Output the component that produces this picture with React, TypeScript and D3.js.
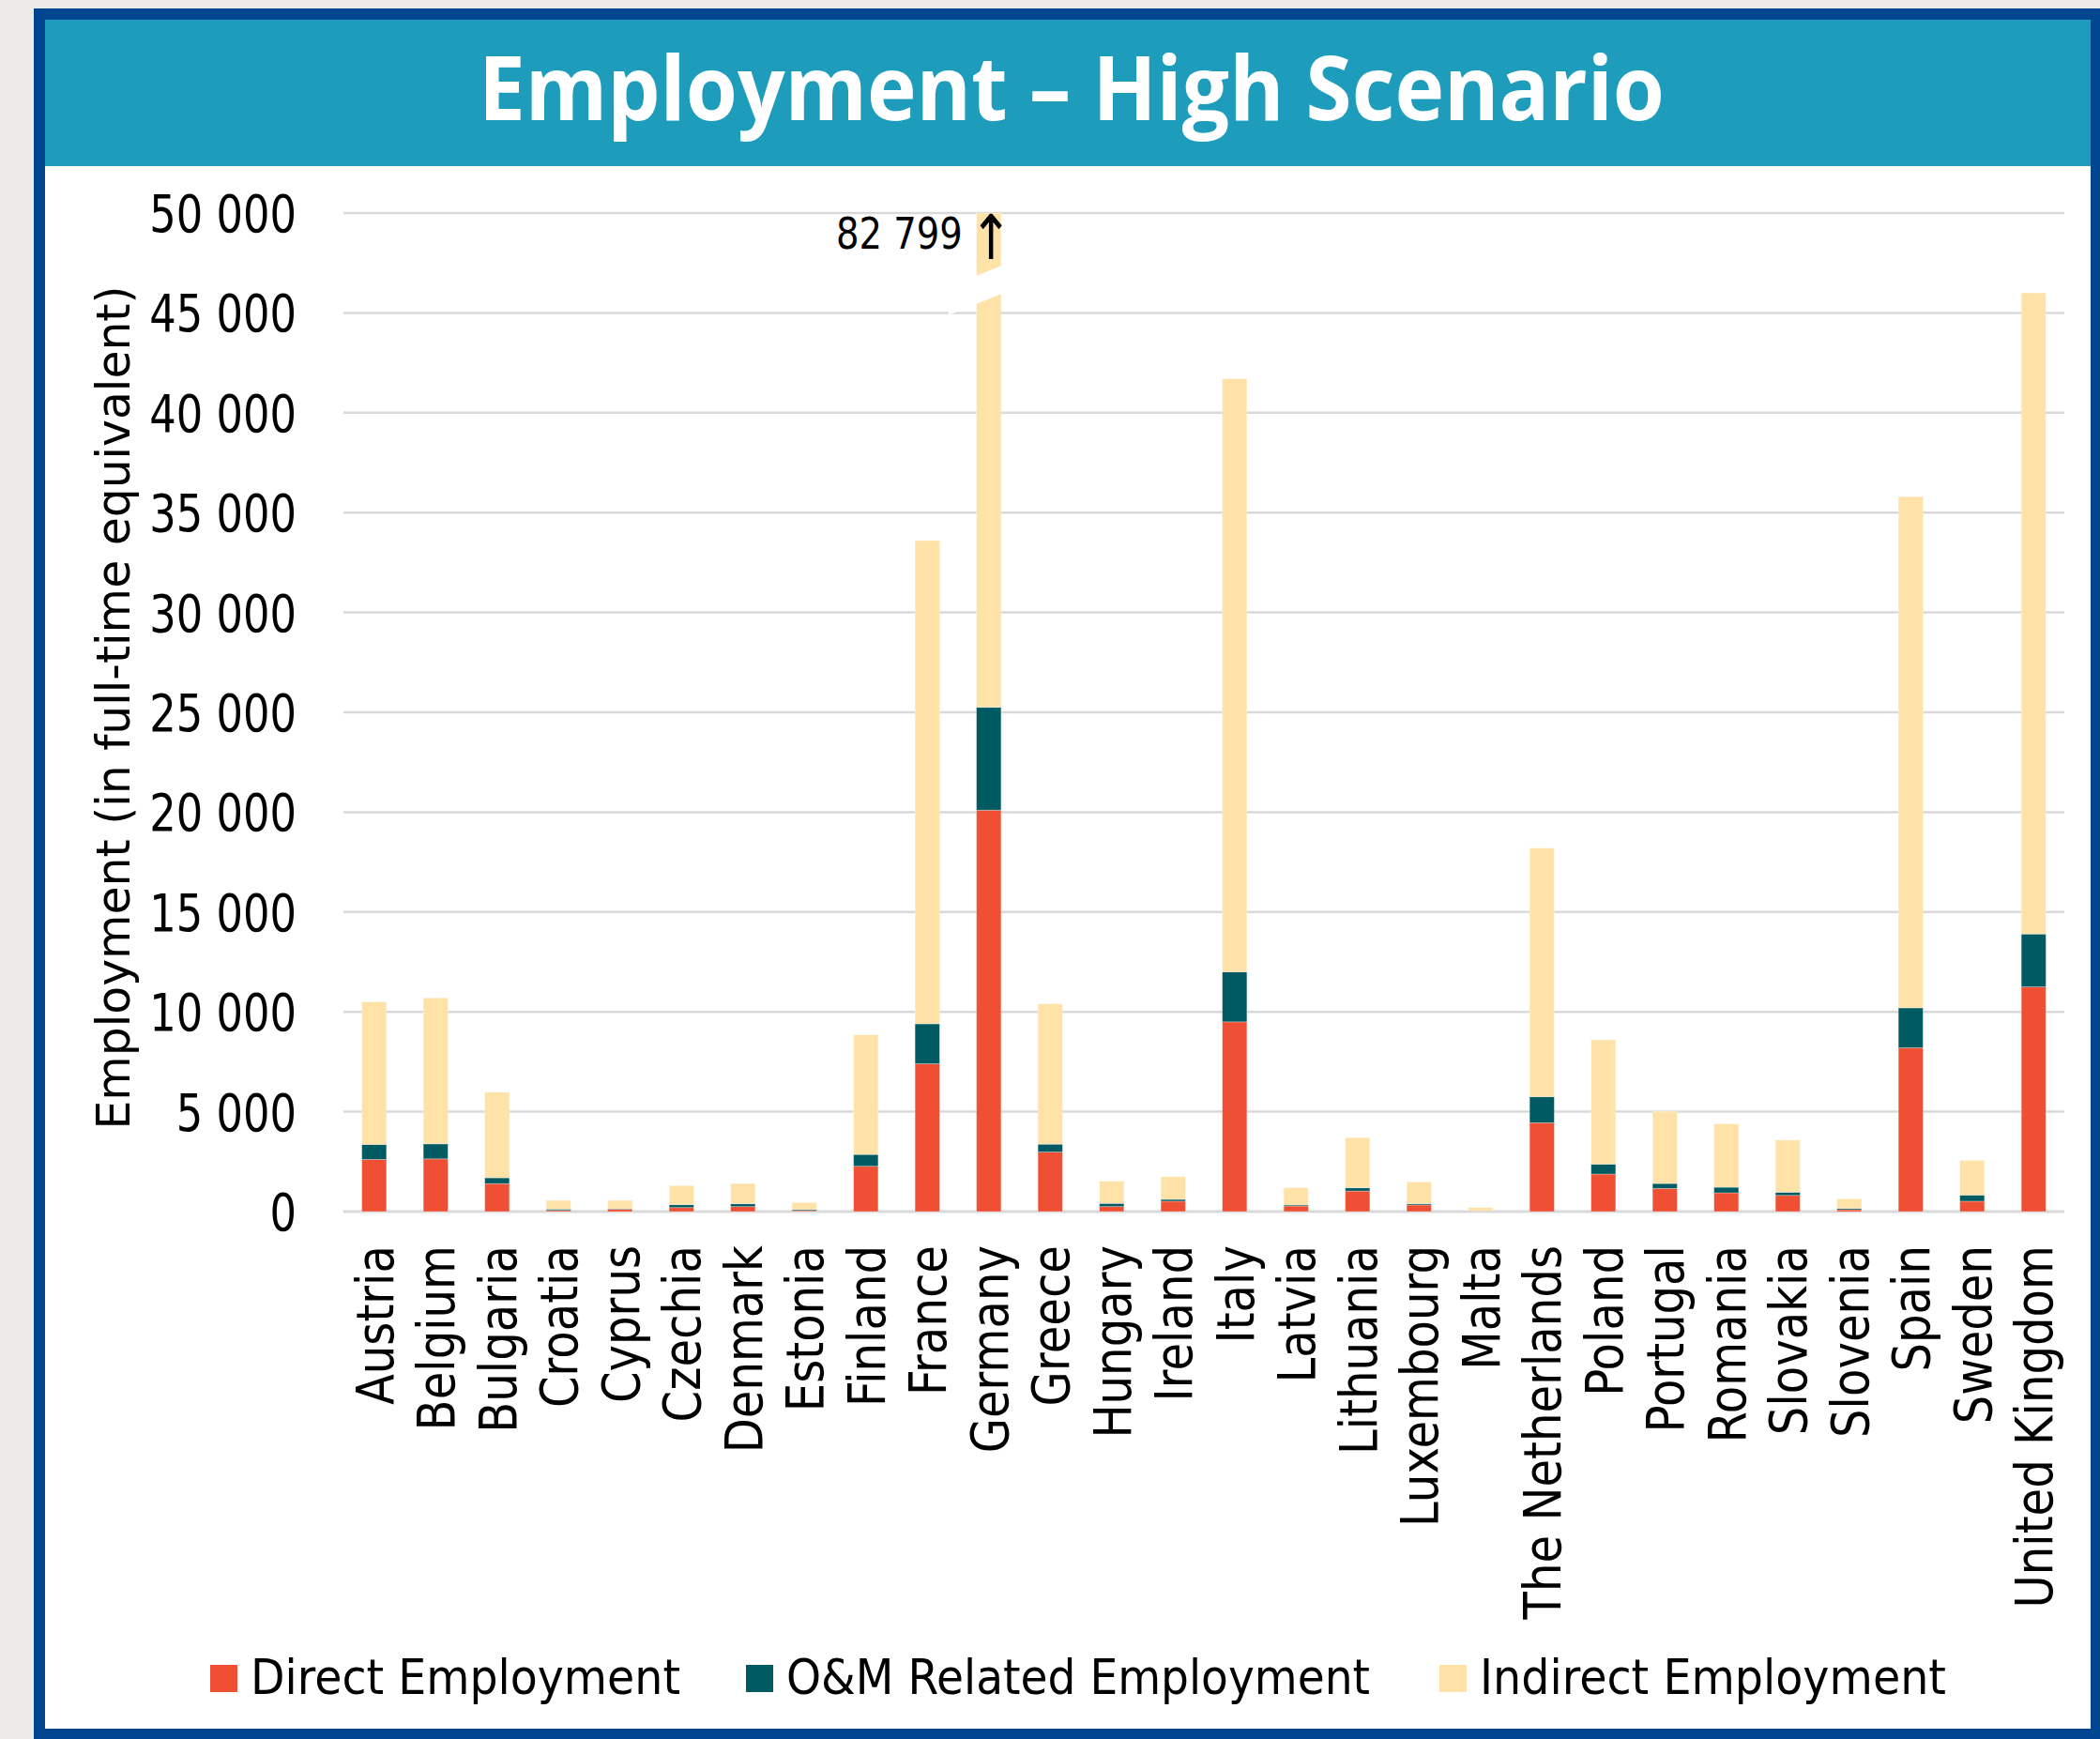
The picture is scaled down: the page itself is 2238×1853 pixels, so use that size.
import React from "react";
import * as d3 from "d3";

const countries = [
  "Austria", "Belgium", "Bulgaria", "Croatia", "Cyprus", "Czechia", "Denmark", "Estonia",
  "Finland", "France", "Germany", "Greece", "Hungary", "Ireland", "Italy", "Latvia",
  "Lithuania", "Luxembourg", "Malta", "The Netherlands", "Poland", "Portugal", "Romania",
  "Slovakia", "Slovenia", "Spain", "Sweden", "United Kingdom",
];
const directEmployment = [
  2610, 2640, 1400, 60, 120, 200, 250, 45, 2270, 7400, 20100, 2980, 250, 520, 9500, 280,
  1030, 330, 15, 4450, 1880, 1160, 940, 810, 95, 8200, 520, 11250,
];
const omEmployment = [
  750, 750, 290, 65, 20, 145, 140, 50, 590, 2000, 5150, 395, 160, 90, 2500, 50,
  160, 60, 15, 1300, 495, 246, 279, 159, 61, 2000, 308, 2650,
];
const indirectEmployment = [
  7140, 7310, 4290, 435, 420, 955, 1015, 360, 5990, 24200, 57549, 7025, 1105, 1140, 29700, 860,
  2510, 1095, 175, 12450, 6225, 3609, 3171, 2611, 484, 25600, 1732, 32100,
];
const seriesNames = ["Direct Employment", "O&M Related Employment", "Indirect Employment"];
const seriesColors = ["#EF5033", "#005A62", "#FFE2A8"];
const yTicks = [0, 5000, 10000, 15000, 20000, 25000, 30000, 35000, 40000, 45000, 50000];
const yMax = 50000;
const brokenCountry = "Germany";
const brokenLabel = "82 799";
const titleText = "Employment \u2013 High Scenario";
const yAxisTitle = "Employment (in full-time equivalent)";

const W = 2238;
const H = 1853;
const FONT = "'DejaVu Sans', Verdana, sans-serif";

export default function App() {
  const plotLeft = 366;
  const plotRight = 2200;
  const plotTop = 227;
  const plotBottom = 1291;

  const x = d3.scaleBand<string>().domain(countries).range([plotLeft, plotRight]).paddingInner(0.6).paddingOuter(0.3);
  const y = d3.scaleLinear().domain([0, yMax]).range([plotBottom, plotTop]);

  const rows = countries.map((c, i) => ({
    country: c,
    direct: directEmployment[i],
    om: omEmployment[i],
    indirect: indirectEmployment[i],
  }));
  const keys = ["direct", "om", "indirect"];
  const stacked = d3.stack<any>().keys(keys)(rows);

  const fmt = (v: number) => d3.format(",")(v).replace(/,/g, " ");

  const bw = x.bandwidth();
  const gx = (x(brokenCountry) as number) + bw / 2;
  const gapY = y(46400);
  const slope = 0.4;
  const gapHalf = 15;
  const bx0 = gx - 43;
  const bx1 = gx + 17;
  const bandPts = [
    [bx0, gapY - gapHalf + (gx - bx0) * slope],
    [bx1, gapY - gapHalf - (bx1 - gx) * slope],
    [bx1, gapY + gapHalf - (bx1 - gx) * slope],
    [bx0, gapY + gapHalf + (gx - bx0) * slope],
  ];

  const legendLayout = [
    { sx: 224, tw: 458 },
    { sx: 795, tw: 622 },
    { sx: 1534, tw: 497 },
  ];

  const labelScale = 0.82;
  const labelStart = 891;
  const labelEnd = labelStart + 164 * labelScale;
  const arrowDx = (gx - 20.5 - labelEnd) / labelScale;

  return (
    <svg width={W} height={H} style={{ position: "absolute", left: 0, top: 0, display: "block" }} fontFamily={FONT}>
      <rect x={0} y={0} width={W} height={H} fill="#EDEBE7" />
      <rect x={36} y={9} width={W - 36} height={H - 9} fill="#00458F" />
      <rect x={48} y={21} width={2228 - 48} height={1842 - 21} fill="#ffffff" />
      <rect x={48} y={21} width={2228 - 48} height={156} fill="#1D9DBB" />
      <text
        x={1142}
        y={128}
        textAnchor="middle"
        fontFamily="'Open Sans', sans-serif"
        fontWeight={700}
        fontSize={95}
        fill="#ffffff"
        textLength={1264}
        lengthAdjust="spacingAndGlyphs"
      >
        {titleText}
      </text>

      {/* gridlines */}
      {yTicks.map((t) => (
        <line key={t} x1={plotLeft} x2={plotRight} y1={y(t)} y2={y(t)} stroke="#D9D9D9" strokeWidth={t === 0 ? 3 : 2.5} />
      ))}

      {/* y tick labels */}
      {yTicks.map((t) => (
        <text key={t} transform={`translate(316,${y(t) + 20}) scale(0.8,1)`} textAnchor="end" fontSize={56} fill="#000">
          {fmt(t)}
        </text>
      ))}

      {/* y axis title */}
      <text
        transform={`translate(138,${(plotTop + plotBottom) / 2 - 5}) rotate(-90)`}
        textAnchor="middle"
        fontSize={50}
        fill="#000"
        textLength={899}
        lengthAdjust="spacingAndGlyphs"
      >
        {yAxisTitle}
      </text>

      {/* bars */}
      {stacked.map((s, si) => (
        <g key={si} fill={seriesColors[si]}>
          {s.map((d: any, i: number) => {
            const y0 = Math.min(d[0], yMax);
            const y1 = Math.min(d[1], yMax);
            return (
              <rect
                key={i}
                x={x(countries[i]) as number}
                y={y(y1)}
                width={bw}
                height={Math.max(0, y(y0) - y(y1))}
                stroke="#ffffff"
                strokeOpacity={0.35}
                strokeWidth={0.8}
              />
            );
          })}
        </g>
      ))}

      {/* axis break on Germany */}
      <polygon points={bandPts.map((p) => p.join(",")).join(" ")} fill="#ffffff" />
      <text transform={`translate(${labelStart},265) scale(${labelScale},1)`} fontSize={47} fill="#000">
        <tspan>{brokenLabel}</tspan>
        <tspan dx={arrowDx} dy={11} fontSize={66}>{"\u2191"}</tspan>
      </text>

      {/* x labels */}
      {countries.map((c) => (
        <text
          key={c}
          transform={`translate(${(x(c) as number) + bw / 2 + 20},1327) rotate(-90) scale(0.86,1)`}
          textAnchor="end"
          fontSize={56}
          fill="#000"
        >
          {c}
        </text>
      ))}

      {/* legend */}
      {seriesNames.map((n, i) => (
        <g key={n}>
          <rect x={legendLayout[i].sx} y={1774} width={29} height={29} fill={seriesColors[i]} />
          <text
            x={legendLayout[i].sx + 43}
            y={1805}
            fontSize={52}
            fill="#000"
            textLength={legendLayout[i].tw}
            lengthAdjust="spacingAndGlyphs"
          >
            {n}
          </text>
        </g>
      ))}
    </svg>
  );
}
